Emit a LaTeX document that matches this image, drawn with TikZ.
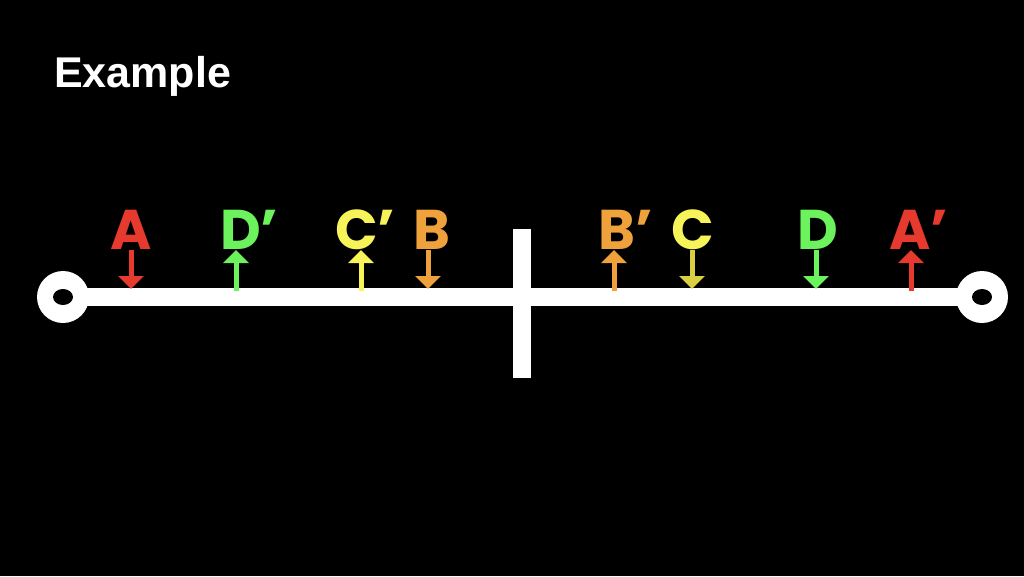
\documentclass[tikz,border=0pt]{standalone}
\usepackage{fontspec}
\setmainfont{Liberation Sans}
\newfontfamily\labfont{Poppins}
\usetikzlibrary{arrows.meta}
\definecolor{cred}{HTML}{E63A2E}
\definecolor{cgreen}{HTML}{6BF25C}
\definecolor{cyellow}{HTML}{F7F45A}
\definecolor{colive}{HTML}{D8D040}
\definecolor{corange}{HTML}{EFA23C}
\tikzset{
  lab/.style={anchor=base west, inner sep=0pt, font=\labfont\bfseries\fontsize{56}{56}\selectfont},
  marker/.style={line width=5pt, -{Triangle[width=25pt,length=13pt]}},
  track/.style={white, line width=18pt},
  ring/.style={fill=white, draw=none},
}
\begin{document}
\begin{tikzpicture}[x=1pt,y=-1pt]
\fill[black] (0,0) rectangle (1024,576);
\useasboundingbox (0,0) rectangle (1024,576);
\node[anchor=base west, inner sep=0pt, text=white, font=\bfseries\fontsize{43}{43}\selectfont] (title) at (54,87) {Example};
% track
\coordinate (L) at (63,297);
\coordinate (R) at (982,297);
\draw[track] (L) -- (R);
\fill[ring] (L) circle (26);
\fill[black] (L) ellipse (10 and 8);
\fill[ring] (R) circle (26);
\fill[black] (R) ellipse (10 and 8);
\coordinate (bt) at (522,229);
\coordinate (bb) at (522,378);
\draw[white, line width=18pt] (bt) -- (bb);
% labels
\node[lab, text=cred] (A) at (110,249) {A};
\node[lab, text=cgreen] (Dp) at (220,249) {D’};
\node[lab, text=cyellow] (Cp) at (335,249) {C’};
\node[lab, text=corange] (B) at (413,249) {B};
\node[lab, text=corange] (Bp) at (598,249) {B’};
\node[lab, text=cyellow] (C) at (671,249) {C};
\node[lab, text=cgreen] (D) at (797,249) {D};
\node[lab, text=cred] (Ap) at (889,249) {A’};
% arrow endpoints
\coordinate (a1) at (131,250); \coordinate (a2) at (131,289);
\coordinate (dp1) at (236,291); \coordinate (dp2) at (236,250);
\coordinate (cp1) at (361,291); \coordinate (cp2) at (361,250);
\coordinate (b1) at (428,250); \coordinate (b2) at (428,289);
\coordinate (bp1) at (614,291); \coordinate (bp2) at (614,250);
\coordinate (c1) at (692,250); \coordinate (c2) at (692,289);
\coordinate (d1) at (816,250); \coordinate (d2) at (816,289);
\coordinate (ap1) at (911,291); \coordinate (ap2) at (911,250);
\draw[marker, cred] (a1) -- (a2);
\draw[marker, cgreen] (dp1) -- (dp2);
\draw[marker, cyellow] (cp1) -- (cp2);
\draw[marker, corange] (b1) -- (b2);
\draw[marker, corange] (bp1) -- (bp2);
\draw[marker, colive] (c1) -- (c2);
\draw[marker, cgreen] (d1) -- (d2);
\draw[marker, cred] (ap1) -- (ap2);
\end{tikzpicture}
\end{document}
